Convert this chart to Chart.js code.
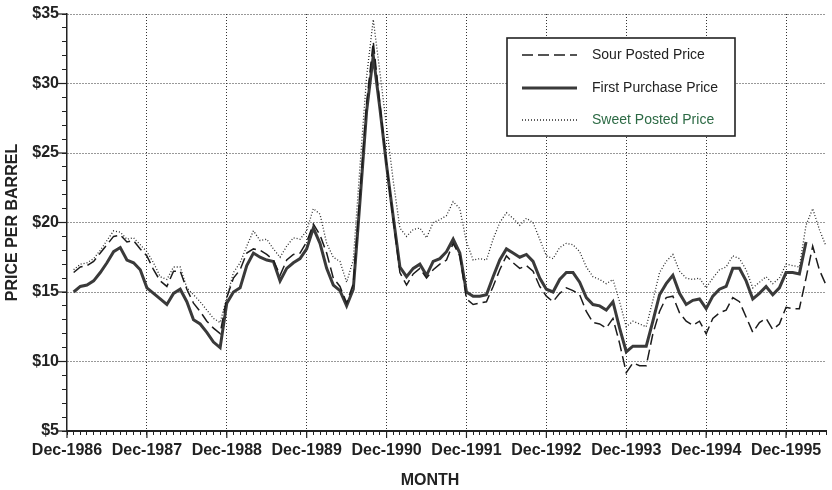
<!DOCTYPE html>
<html>
<head>
<meta charset="utf-8">
<title>Crude Oil Prices</title>
<script src="https://cdn.jsdelivr.net/npm/chart.js@4/dist/chart.umd.min.js"></script>
<style>
  html, body { margin: 0; padding: 0; background: #fff; }
  #wrap { width: 832px; height: 490px; }
</style>
</head>
<body>
<div id="wrap"><canvas id="chart" width="832" height="490"></canvas></div>
<script>
// Monthly categories, Dec-1986 through Jun-1996
const monthNames = ['Jan','Feb','Mar','Apr','May','Jun','Jul','Aug','Sep','Oct','Nov','Dec'];
const firstYear = 1987;
const lastYear = 1996;
const lastMonthOfLastYear = 6;
const months = ['Dec-1986'];
for (let yr = firstYear; yr <= lastYear; yr++) {
  const end = yr === lastYear ? lastMonthOfLastYear : 12;
  for (let m = 0; m < end; m++) months.push(monthNames[m] + '-' + yr);
}

// Price per barrel, dollars (first entry is Dec-1986, no data)
const sourPosted = [
  null,
  16.4, 16.8, 16.9, 17.2, 17.8, 18.4, 19.0, 19.1, 18.6, 18.7, 18.1, 17.6,   // 1987
  16.6, 15.8, 15.4, 16.5, 16.5, 15.2, 14.2, 13.6, 12.9, 12.4, 12.0, 14.6,   // 1988
  16.0, 16.6, 17.8, 18.1, 18.0, 17.7, 17.3, 16.2, 17.3, 17.7, 17.8, 18.6,   // 1989
  19.9, 19.1, 17.8, 16.0, 15.4, 14.2, 15.6, 22.0, 28.6, 33.0, 28.5, 24.2,   // 1990
  20.2, 16.4, 15.5, 16.3, 16.7, 16.0, 16.6, 17.0, 17.3, 18.5, 17.6, 14.5,   // 1991
  14.1, 14.2, 14.3, 15.4, 16.6, 17.6, 17.1, 16.7, 16.9, 16.5, 15.4, 14.7,   // 1992
  14.3, 14.9, 15.3, 15.1, 14.8, 13.6, 12.8, 12.7, 12.4, 13.1, 11.3, 9.2,    // 1993
  9.9, 9.7, 9.7, 12.0, 13.6, 14.6, 14.7, 13.5, 12.9, 12.6, 12.9, 12.0,      // 1994
  13.1, 13.5, 13.7, 14.6, 14.3, 13.2, 12.1, 12.8, 13.1, 12.3, 12.7, 13.9,   // 1995
  13.8, 13.8, 16.0, 18.3, 16.6, 15.5                                         // 1996
];

const firstPurchase = [
  null,
  15.0, 15.4, 15.5, 15.8, 16.4, 17.1, 17.9, 18.2, 17.3, 17.1, 16.6, 15.3,   // 1987
  14.9, 14.5, 14.1, 14.9, 15.2, 14.3, 13.0, 12.7, 12.1, 11.4, 11.0, 14.2,   // 1988
  15.0, 15.3, 16.9, 17.8, 17.5, 17.3, 17.2, 15.8, 16.7, 17.1, 17.4, 18.1,   // 1989
  19.6, 18.5, 16.7, 15.5, 15.1, 14.0, 15.2, 21.5, 28.0, 32.0, 28.2, 24.1,   // 1990
  20.4, 16.8, 16.1, 16.7, 17.0, 16.2, 17.2, 17.4, 17.9, 18.8, 17.8, 15.0,   // 1991
  14.7, 14.7, 14.8, 16.1, 17.3, 18.1, 17.8, 17.5, 17.7, 17.2, 16.0, 15.2,   // 1992
  15.0, 15.9, 16.4, 16.4, 15.7, 14.6, 14.1, 14.0, 13.7, 14.3, 12.4, 10.7,   // 1993
  11.1, 11.1, 11.1, 12.9, 14.8, 15.6, 16.2, 14.9, 14.1, 14.4, 14.5, 13.8,   // 1994
  14.7, 15.2, 15.4, 16.7, 16.7, 15.8, 14.5, 14.9, 15.4, 14.8, 15.3, 16.4,   // 1995
  16.4, 16.3, 18.6, null, null, null                                         // 1996
];

const sweetPosted = [
  null,
  16.6, 17.0, 17.1, 17.4, 18.0, 18.7, 19.4, 19.3, 18.8, 18.9, 18.4, 17.9,   // 1987
  17.1, 16.1, 15.9, 16.8, 16.8, 15.3, 14.8, 14.3, 13.7, 13.1, 12.8, 14.6,   // 1988
  16.4, 17.1, 18.3, 19.4, 18.7, 18.8, 18.1, 17.5, 18.3, 18.9, 18.8, 19.4,   // 1989
  21.0, 20.6, 18.5, 17.5, 17.2, 15.7, 17.3, 24.0, 30.5, 34.6, 30.8, 26.9,   // 1990
  23.0, 19.6, 19.0, 19.5, 19.6, 18.9, 20.0, 20.2, 20.5, 21.5, 21.0, 18.6,   // 1991
  17.3, 17.4, 17.3, 18.8, 20.0, 20.7, 20.3, 19.8, 20.3, 20.0, 18.8, 17.6,   // 1992
  17.4, 18.2, 18.5, 18.4, 17.9, 16.8, 16.1, 15.9, 15.6, 15.9, 14.3, 12.5,   // 1993
  12.9, 12.7, 12.5, 14.4, 16.4, 17.2, 17.7, 16.5, 16.0, 15.9, 16.0, 15.3,   // 1994
  16.0, 16.6, 16.8, 17.6, 17.4, 16.6, 15.3, 15.7, 16.1, 15.6, 16.0, 17.0,   // 1995
  16.9, 16.8, 19.8, 21.0, 19.5, 18.3                                         // 1996
];

const yTicks = { min: 5, max: 35, major: 5 };

const FONT = '"Liberation Sans", Arial, Helvetica, sans-serif';
const INK = '#222';
const GRID = '#333';
const NONE = 'rgba(0,0,0,0)';
const isDecember = i => i % 12 === 0;

// Longer marks at Decembers and at every $5, the "MONTH" title, and the boxed key
const overlay = {
  id: 'overlay',
  afterDraw(chart) {
    const { ctx, scales: { x, y } } = chart;
    ctx.save();
    ctx.strokeStyle = INK;
    ctx.lineWidth = 1.2;
    months.forEach((m, i) => {
      if (!isDecember(i)) return;
      const px = x.getPixelForValue(i);
      ctx.beginPath(); ctx.moveTo(px, x.top); ctx.lineTo(px, x.top + 7); ctx.stroke();
    });
    y.ticks.forEach(t => {
      if (t.value % yTicks.major !== 0) return;
      const py = y.getPixelForValue(t.value);
      ctx.beginPath(); ctx.moveTo(y.right, py); ctx.lineTo(y.right - 9, py); ctx.stroke();
    });

    ctx.fillStyle = INK;
    ctx.font = 'bold 16px ' + FONT;
    ctx.textAlign = 'center';
    ctx.textBaseline = 'middle';
    ctx.fillText('MONTH', 430, 481);

    // key
    const bx = 507, by = 38, bw = 228, bh = 98;
    ctx.fillStyle = '#fff';
    ctx.fillRect(bx, by, bw, bh);
    ctx.lineWidth = 1.6;
    ctx.strokeStyle = INK;
    ctx.strokeRect(bx, by, bw, bh);
    const rows = [55, 88, 120];
    const textColors = [INK, INK, '#2c6a44'];
    chart.data.datasets.forEach((ds, i) => {
      const ry = rows[i];
      ctx.save();
      ctx.setLineDash(ds.borderDash || []);
      ctx.lineWidth = ds.borderWidth;
      ctx.strokeStyle = ds.borderColor;
      ctx.beginPath(); ctx.moveTo(522, ry); ctx.lineTo(577, ry); ctx.stroke();
      ctx.restore();
      ctx.fillStyle = textColors[i];
      ctx.font = '14px ' + FONT;
      ctx.textAlign = 'left';
      ctx.textBaseline = 'middle';
      ctx.fillText(ds.label, 592, ry);
    });
    ctx.restore();
  }
};

new Chart(document.getElementById('chart'), {
  type: 'line',
  data: {
    labels: months,
    datasets: [
      { label: 'Sour Posted Price', data: sourPosted, borderColor: '#1c1c1c', borderWidth: 1.5, borderDash: [11, 5] },
      { label: 'First Purchase Price', data: firstPurchase, borderColor: '#3a3a3a', borderWidth: 3 },
      { label: 'Sweet Posted Price', data: sweetPosted, borderColor: '#2a2a2a', borderWidth: 1.3, borderDash: [1, 2] }
    ]
  },
  options: {
    responsive: false,
    animation: false,
    layout: { padding: { top: 14, right: 2, left: 0, bottom: 0 } },
    elements: { point: { radius: 0 }, line: { tension: 0, fill: false } },
    plugins: { legend: { display: false }, tooltip: { enabled: false } },
    scales: {
      x: {
        type: 'category',
        offset: false,
        grid: {
          color: c => (isDecember(c.index) && c.index > 0) ? GRID : NONE,
          lineWidth: 1,
          tickColor: INK,
          tickLength: 4
        },
        border: { display: true, color: INK, width: 2, dash: [1, 2] },
        ticks: {
          autoSkip: false, maxRotation: 0, minRotation: 0, padding: 6,
          color: INK, font: { family: FONT, size: 16, weight: 'bold' },
          callback: (v, i) => isDecember(i) ? months[i] : ''
        },
        afterFit: s => { s.height = 59; }
      },
      y: {
        min: yTicks.min, max: yTicks.max,
        grid: {
          color: c => (c.tick && c.tick.value % yTicks.major === 0 && c.tick.value > yTicks.min) ? GRID : NONE,
          lineWidth: 1,
          tickColor: INK,
          tickLength: 5
        },
        border: { display: true, color: INK, width: 1.5, dash: [1, 2] },
        ticks: {
          stepSize: 1, autoSkip: false, padding: 3,
          color: INK, font: { family: FONT, size: 16, weight: 'bold' },
          callback: v => v % yTicks.major === 0 ? '$' + v : ''
        },
        title: {
          display: true, text: 'PRICE PER BARREL', color: INK,
          font: { family: FONT, size: 16, weight: 'bold' },
          padding: { top: 3, bottom: 0 }
        },
        afterFit: s => { s.width = 67; }
      }
    }
  },
  plugins: [overlay]
});
</script>
</body>
</html>
